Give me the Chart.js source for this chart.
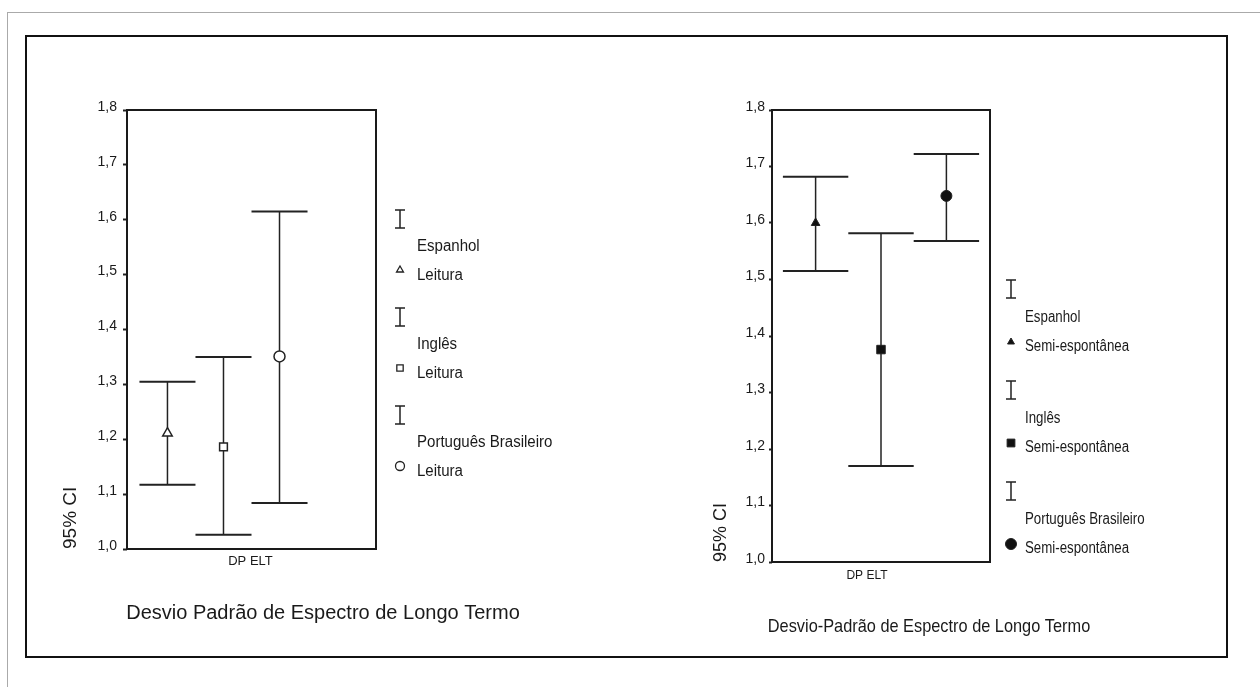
<!DOCTYPE html>
<html>
<head>
<meta charset="utf-8">
<script src="https://cdn.jsdelivr.net/npm/chart.js@4.4.1/dist/chart.umd.min.js"></script>
<style>
  body { margin: 0; background: #fff; }
  #page { position: relative; width: 1260px; height: 687px; overflow: hidden; background: #fff; }
  #outer { position: absolute; left: 7px; top: 12px; width: 1300px; height: 700px; border: 1px solid #aaa; }
  #frame { position: absolute; left: 25px; top: 35px; width: 1199px; height: 619px; border: 2px solid #111; }
  canvas { position: absolute; }
  #leitura { left: 27px; top: 37px; }
  #semi { left: 630px; top: 37px; }
</style>
</head>
<body>
<div id="page">
  <div id="outer"></div>
  <div id="frame"></div>
  <canvas id="leitura" width="600" height="618"></canvas>
  <canvas id="semi" width="596" height="618"></canvas>
</div>
<script>
// Data (95% CI)
const categories = ['DP ELT'];
const groups = ['Espanhol', 'Inglês', 'Português Brasileiro'];
const conditions = ['Leitura', 'Semi-espontânea'];
const yTickLabels = ['1,0', '1,1', '1,2', '1,3', '1,4', '1,5', '1,6', '1,7', '1,8'];
const titles = ['Desvio Padrão de Espectro de Longo Termo', 'Desvio-Padrão de Espectro de Longo Termo'];

// Leitura
const leituraLow = [1.117, 1.026, 1.084];
const leituraHigh = [1.305, 1.350, 1.615];
const leituraMean = [1.211, 1.186, 1.351];

// Semi-espontânea
const semiLow = [1.515, 1.170, 1.568];
const semiHigh = [1.682, 1.582, 1.722];
const semiMean = [1.600, 1.376, 1.648];

const SANS = '"Liberation Sans", Arial, sans-serif';
const INK = '#1a1a1a';

// text squeezed horizontally, to mimic the narrow SPSS font
function narrowText(ctx, text, x, y, font, sx, align) {
  ctx.save();
  ctx.translate(x, y);
  ctx.scale(sx, 1);
  ctx.font = font;
  ctx.textAlign = align;
  ctx.textBaseline = 'middle';
  ctx.fillStyle = INK;
  ctx.fillText(text, 0, 0);
  ctx.restore();
}

// Draws the plot box, the error bars, the legend and the bottom title
const spssPlugin = {
  id: 'spss',
  beforeDatasetsDraw(chart) {
    const { ctx, chartArea: a } = chart;
    ctx.save();
    ctx.strokeStyle = INK;
    ctx.lineWidth = 2;
    ctx.strokeRect(a.left, a.top, a.right - a.left, a.bottom - a.top);
    ctx.restore();
  },
  afterDatasetsDraw(chart) {
    const ctx = chart.ctx;
    const yScale = chart.scales.y;
    ctx.save();
    chart.data.datasets.forEach((ds, i) => {
      if (!ds.means) return;
      const meta = chart.getDatasetMeta(i);
      meta.data.forEach((bar, j) => {
        const { x, y, base, width } = bar.getProps(['x', 'y', 'base', 'width'], true);
        ctx.strokeStyle = '#222';
        ctx.lineWidth = 1.5;
        ctx.beginPath();
        ctx.moveTo(x, y);
        ctx.lineTo(x, base);
        ctx.stroke();
        ctx.lineWidth = 2;
        ctx.beginPath();
        ctx.moveTo(x - width / 2, y);
        ctx.lineTo(x + width / 2, y);
        ctx.moveTo(x - width / 2, base);
        ctx.lineTo(x + width / 2, base);
        ctx.stroke();
        const m = ds.marker;
        ctx.fillStyle = m.fill;
        ctx.lineWidth = m.borderWidth;
        Chart.helpers.drawPoint(ctx, { pointStyle: m.style, radius: m.radius, borderWidth: m.borderWidth, rotation: 0 },
          x, yScale.getPixelForValue(ds.means[j]));
      });
    });
    ctx.restore();
  },
  afterDraw(chart, args, o) {
    const ctx = chart.ctx;
    ctx.save();
    chart.data.datasets.forEach((ds, i) => {
      if (!ds.means) return;
      const cy = o.legendY + i * o.legendStep;
      const cx = o.legendX;
      // the "I" whisker symbol
      ctx.strokeStyle = '#222';
      ctx.lineWidth = 1.5;
      ctx.beginPath();
      ctx.moveTo(cx, cy - 9);
      ctx.lineTo(cx, cy + 9);
      ctx.moveTo(cx - 5, cy - 9);
      ctx.lineTo(cx + 5, cy - 9);
      ctx.moveTo(cx - 5, cy + 9);
      ctx.lineTo(cx + 5, cy + 9);
      ctx.stroke();
      // marker
      const m = ds.marker;
      ctx.fillStyle = m.fill;
      ctx.lineWidth = m.legendBorder;
      Chart.helpers.drawPoint(ctx, { pointStyle: m.style, radius: m.legendRadius, borderWidth: m.legendBorder, rotation: 0 },
        cx, cy + o.markerDy);
      // texts
      narrowText(ctx, ds.label, o.textX, cy + o.nameDy, o.legendFont, o.legendScale, 'left');
      narrowText(ctx, o.condition, o.textX, cy + o.condDy, o.legendFont, o.legendScale, 'left');
    });
    narrowText(ctx, o.title, o.titleX, o.titleY, o.titleFont, o.titleScale, 'center');
    ctx.restore();
  }
};

function makeDatasets(low, high, mean, markers) {
  return groups.map((g, i) => ({
    label: g,
    data: [[low[i], high[i]]],
    means: [mean[i]],
    marker: markers[i],
    backgroundColor: 'rgba(0,0,0,0)',
    borderWidth: 0,
    categoryPercentage: 0.9,
    barPercentage: 1.0
  }));
}

function makeChart(id, datasets, cfg) {
  return new Chart(document.getElementById(id), {
    type: 'bar',
    data: { labels: categories, datasets: datasets },
    plugins: [spssPlugin],
    options: {
      responsive: false,
      animation: false,
      events: [],
      layout: { padding: cfg.padding },
      scales: {
        x: {
          afterFit: s => { s.height = cfg.xHeight; },
          grid: { display: false, drawTicks: false },
          border: { display: false },
          ticks: { color: INK, font: { family: SANS, size: cfg.xFont }, padding: cfg.xPadding, labelOffset: cfg.xLabelOffset }
        },
        y: {
          min: 1.0,
          max: 1.8,
          afterFit: s => { s.width = cfg.yWidth; },
          border: { display: false },
          grid: { drawOnChartArea: false, tickLength: cfg.tickLength, tickWidth: 2, tickColor: '#222', color: '#222' },
          ticks: {
            stepSize: 0.1,
            color: INK,
            padding: cfg.tickPadding,
            labelOffset: -3,
            font: { family: SANS, size: 14 },
            callback: (v, i) => yTickLabels[i]
          },
          title: {
            display: true,
            text: '95% CI',
            align: 'start',
            color: INK,
            font: { family: SANS, size: cfg.ciFont, lineHeight: 1.2 },
            padding: { top: cfg.ciPad, bottom: 0 }
          }
        }
      },
      plugins: {
        legend: { display: false },
        tooltip: { enabled: false },
        spss: cfg.spss
      }
    }
  });
}

// Left: Leitura (open markers, SPSS left an empty fourth slot)
const leituraSets = makeDatasets(leituraLow, leituraHigh, leituraMean, [
  { style: 'triangle', fill: '#fff', radius: 5.5, borderWidth: 1.5, legendRadius: 4, legendBorder: 1.3 },
  { style: 'rect', fill: '#fff', radius: 5.5, borderWidth: 1.5, legendRadius: 4.5, legendBorder: 1.3 },
  { style: 'circle', fill: '#fff', radius: 5.5, borderWidth: 1.5, legendRadius: 4.5, legendBorder: 1.3 }
]);
leituraSets.push({ label: '', data: [null], backgroundColor: 'rgba(0,0,0,0)', categoryPercentage: 0.9, barPercentage: 1.0 });

makeChart('leitura', leituraSets, {
  padding: { left: 0, top: 73, right: 251, bottom: 0 },
  yWidth: 100,
  xHeight: 106,
  xFont: 13,
  xPadding: 5,
  xLabelOffset: -1,
  tickLength: 4,
  tickPadding: 6,
  ciFont: 19,
  ciPad: 32,
  spss: {
    legendX: 373, legendY: 182, legendStep: 98,
    markerDy: 51, nameDy: 28, condDy: 57, textX: 390,
    legendFont: '16px ' + SANS, legendScale: 0.94,
    condition: conditions[0],
    title: titles[0], titleFont: '20px ' + SANS, titleScale: 1, titleX: 296, titleY: 576
  }
});

// Right: Semi-espontânea (filled markers)
const semiSets = makeDatasets(semiLow, semiHigh, semiMean, [
  { style: 'triangle', fill: '#111', radius: 5, borderWidth: 1, legendRadius: 4, legendBorder: 1 },
  { style: 'rect', fill: '#111', radius: 6, borderWidth: 1, legendRadius: 5.5, legendBorder: 1 },
  { style: 'circle', fill: '#111', radius: 5.5, borderWidth: 1, legendRadius: 5.5, legendBorder: 1 }
]);

makeChart('semi', semiSets, {
  padding: { left: 0, top: 73, right: 236, bottom: 0 },
  yWidth: 142,
  xHeight: 93,
  xFont: 12,
  xPadding: 6,
  xLabelOffset: -14,
  tickLength: 3,
  tickPadding: 4,
  ciFont: 18,
  ciPad: 80,
  spss: {
    legendX: 381, legendY: 252, legendStep: 101,
    markerDy: 53, nameDy: 29, condDy: 58, textX: 395,
    legendFont: '16px ' + SANS, legendScale: 0.83,
    condition: conditions[1],
    title: titles[1], titleFont: '19px ' + SANS, titleScale: 0.86, titleX: 299, titleY: 590
  }
});
</script>
</body>
</html>
